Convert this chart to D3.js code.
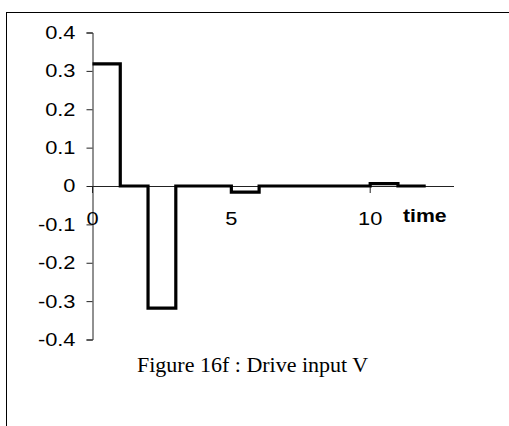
<!DOCTYPE html>
<html>
<head>
<meta charset="utf-8">
<script src="https://cdn.jsdelivr.net/npm/d3@7"></script>
<style>
  html, body { margin: 0; padding: 0; background: #fff; }
  svg { display: block; }
</style>
</head>
<body>
<svg id="chart" width="509" height="426"></svg>
<script>
// Drive input V sampled at each unit of time (held until the next sample)
const times = [0, 1, 2, 3, 4, 5, 6, 7, 8, 9, 10, 11, 12];
const driveV = [0.318, 0, -0.318, 0, 0, -0.016, 0, 0, 0, 0, 0.006, 0, 0];
const yTicks = [-0.4, -0.3, -0.2, -0.1, 0, 0.1, 0.2, 0.3, 0.4];
const xTicks = [0, 5, 10];
const xTitle = "time";
const caption = "Figure 16f : Drive input V";

const svg = d3.select("#chart");

// outer frame
svg.append("rect")
  .attr("x", 6.5).attr("y", 12.5)
  .attr("width", 700).attr("height", 700)
  .attr("fill", "none").attr("stroke", "#000").attr("stroke-width", 1);

const x = d3.scaleLinear().domain([0, 13]).range([92.5, 453.5]);
const y = d3.scaleLinear().domain([-0.4, 0.4]).range([339.5, 32.5]);

const axisColor = "#222";
const labelFont = "Arial, 'Liberation Sans', sans-serif";
const stretch = 1.18;   // labels are set slightly wide
const fmt = d => d === 0 ? "0" : d.toFixed(1);   // plain hyphen for negatives

// y axis
const gy = svg.append("g").attr("transform", `translate(${x(0)},0)`)
  .call(d3.axisLeft(y).tickValues(yTicks).tickSize(6).tickPadding(11).tickFormat(fmt));
gy.select(".domain").attr("stroke", axisColor);
gy.selectAll(".tick line").attr("stroke", axisColor);
gy.selectAll(".tick text")
  .attr("fill", "#000")
  .attr("x", -17 / stretch)
  .attr("transform", `scale(${stretch},1)`)
  .style("font-family", labelFont)
  .style("font-size", "18.5px");

// x axis along zero
const gx = svg.append("g").attr("transform", `translate(0,${y(0)})`)
  .call(d3.axisBottom(x).tickValues(xTicks).tickSize(7).tickSizeOuter(0).tickPadding(0)
    .tickFormat(d3.format("d")));
gx.select(".domain").attr("stroke", axisColor);
gx.selectAll(".tick line").attr("stroke", axisColor);
gx.selectAll(".tick text")
  .attr("fill", "#000")
  .attr("y", 39)
  .attr("dy", 0)
  .attr("transform", `scale(${stretch},1)`)
  .style("font-family", labelFont)
  .style("font-size", "18.5px");
gx.selectAll(".tick").each(function(d) {
  d3.select(this).attr("transform", `translate(${x(d)},0)`);
});

// axis title
svg.append("text")
  .attr("transform", `translate(403,222) scale(${stretch},1)`)
  .style("font-family", labelFont)
  .style("font-size", "18px")
  .style("font-weight", "bold")
  .text(xTitle);

// step trace of the drive input
const line = d3.line()
  .x((d, i) => x(times[i]))
  .y(d => y(d))
  .curve(d3.curveStepAfter);

svg.append("path")
  .datum(driveV)
  .attr("d", line)
  .attr("fill", "none")
  .attr("stroke", "#000")
  .attr("stroke-width", 3.2)
  .attr("stroke-linejoin", "miter")
  .attr("stroke-linecap", "butt");

// caption
svg.append("text")
  .attr("x", 137).attr("y", 372)
  .style("font-family", "'Times New Roman', 'Liberation Serif', serif")
  .style("font-size", "22px")
  .text(caption);
</script>
</body>
</html>
